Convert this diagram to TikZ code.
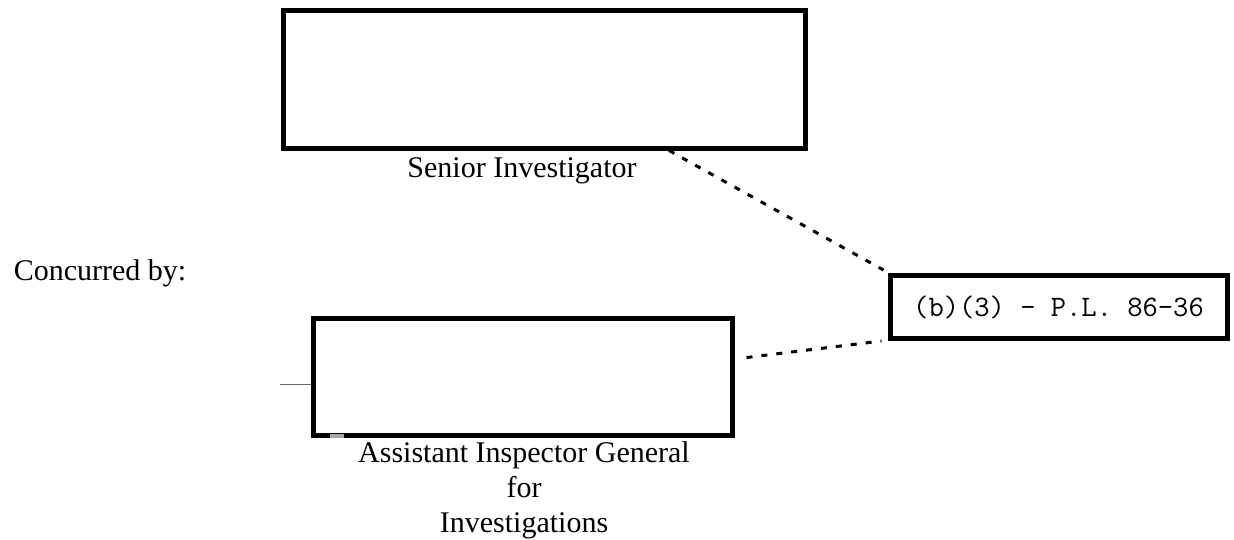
\documentclass[tikz,border=0pt]{standalone}
\usepackage{fontspec}
\setmainfont{Liberation Serif}
\begin{document}
\begin{tikzpicture}[
  x=1pt, y=-1pt,
  font=\fontsize{30}{35}\selectfont,
  sigbox/.style={
    rectangle, draw=black, fill=white, line width=5pt,
    inner sep=0pt
  },
  codebox/.style={
    sigbox, font=\fontsize{29.7}{32}\selectfont\ttfamily
  },
  role/.style={anchor=base, inner sep=0pt},
  link/.style={draw=black, line width=3pt, dash pattern=on 6pt off 9pt},
]
\useasboundingbox (0,0) rectangle (1234,539);

% Signature boxes
\node[sigbox, minimum width=522pt, minimum height=138pt] (senior) at (544,79) {};
\node[sigbox, minimum width=419pt, minimum height=117pt] (aig) at (522.5,376.5) {};

% Redaction box
\node[codebox, minimum width=337pt, minimum height=63pt] (pl) at (1058.5,307) {(b)(3) - P.L. 86-36};

% Labels
\node[role] (seniorlbl) at (522,177) {Senior Investigator};
\node[role] (concur) at (100,280) {Concurred by:};
\node[role] (aiglbl1) at (524,462) {Assistant Inspector General};
\node[role] (aiglbl2) at (524,497) {for};
\node[role] (aiglbl3) at (524,532) {Investigations};

% Scan marks
\coordinate (tick) at (280,384);
\draw[black!60, line width=1pt] (tick) -- (tick -| aig.west);
\fill[black!35] (330,434) rectangle (344,438);

% Dotted leaders to the redaction
\draw[link] ([xshift=-4pt]senior.-29) -- ([xshift=-4pt,yshift=3pt]pl.north west);
\draw[link] ([xshift=12pt,yshift=19pt]aig.east) -- ([xshift=-6pt]pl.south west);

\end{tikzpicture}
\end{document}
